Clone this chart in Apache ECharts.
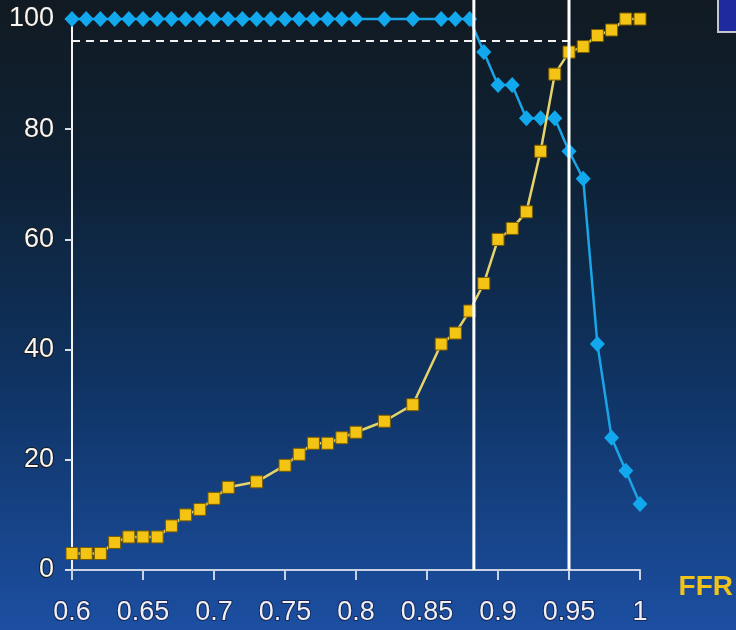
<!DOCTYPE html>
<html>
<head>
<meta charset="utf-8">
<script src="https://cdn.jsdelivr.net/npm/echarts@6/dist/echarts.min.js"></script>
<style>
html,body{margin:0;padding:0;background:#0f1e30;}
#c{width:736px;height:630px;}
</style>
</head>
<body>
<div id="c"></div>
<script>
// FFR values (x) and series values (y, %)
var blueX = [0.60,0.61,0.62,0.63,0.64,0.65,0.66,0.67,0.68,0.69,0.70,0.71,0.72,0.73,0.74,0.75,0.76,0.77,0.78,0.79,0.80,0.82,0.84,0.86,0.87,0.88,0.89,0.90,0.91,0.92,0.93,0.94,0.95,0.96,0.97,0.98,0.99,1.00];
var blueY = [100,100,100,100,100,100,100,100,100,100,100,100,100,100,100,100,100,100,100,100,100,100,100,100,100,100,94,88,88,82,82,82,76,71,41,24,18,12];
var yellowX = [0.60,0.61,0.62,0.63,0.64,0.65,0.66,0.67,0.68,0.69,0.70,0.71,0.73,0.75,0.76,0.77,0.78,0.79,0.80,0.82,0.84,0.86,0.87,0.88,0.89,0.90,0.91,0.92,0.93,0.94,0.95,0.96,0.97,0.98,0.99,1.00];
var yellowY = [3,3,3,5,6,6,6,8,10,11,13,15,16,19,21,23,23,24,25,27,30,41,43,47,52,60,62,65,76,90,94,95,97,98,100,100];
var xTicks = [0.6,0.65,0.7,0.75,0.8,0.85,0.9,0.95,1];
var xTickLabels = ['0.6','0.65','0.7','0.75','0.8','0.85','0.9','0.95','1'];
var yTicks = [0,20,40,60,80,100];
var cutoffs = [0.883,0.95];
var dashedLevel = 96;
var xName = 'FFR';

function pairs(xs, ys){ return xs.map(function(x,i){ return [x, ys[i]]; }); }

var chart = echarts.init(document.getElementById('c'), null, {renderer:'canvas'});
var series = [
  {
    type:'line', name:'dashed', silent:true, clip:false, symbol:'none',
    data:[[xTicks[0], dashedLevel],[cutoffs[1], dashedLevel]],
    lineStyle:{color:'#f2f2f2', width:2, type:[8,6]}, z:1
  }
];
cutoffs.forEach(function(c){
  series.push({
    type:'line', silent:true, clip:false, symbol:'none',
    data:[[c,0],[c,103.6]],
    lineStyle:{color:'#ffffff', width:3}, z:5
  });
});
series.push({
  type:'line', name:'blue', data:pairs(blueX, blueY), clip:false,
  symbol:'diamond', symbolSize:[15,16],
  lineStyle:{color:'#1aa6e6', width:2.5},
  itemStyle:{color:'#12a8ee'}, z:3
});
series.push({
  type:'line', name:'yellow', data:pairs(yellowX, yellowY), clip:false,
  symbol:'rect', symbolSize:12,
  lineStyle:{color:'#e6d46a', width:2.5},
  itemStyle:{color:'#f4c414', borderColor:'#7a5c00', borderWidth:1}, z:4
});

chart.setOption({
  animation:false,
  backgroundColor:{
    type:'linear', x:0, y:0, x2:0, y2:1,
    colorStops:[
      {offset:0, color:'#111a22'},
      {offset:0.3, color:'#0e2338'},
      {offset:0.6, color:'#0f3362'},
      {offset:1, color:'#1c4fa2'}
    ]
  },
  grid:{left:72, right:96, top:19, bottom:60},
  xAxis:{
    type:'value', min:xTicks[0], max:xTicks[xTicks.length-1],
    axisLine:{show:true, lineStyle:{color:'#c8d2e4', width:2}},
    axisTick:{show:true, length:10, customValues:xTicks, lineStyle:{color:'#c8d2e4', width:2}},
    splitLine:{show:false},
    axisLabel:{
      customValues:xTicks,
      formatter:function(v){ var i = xTicks.indexOf(v); return i>=0 ? xTickLabels[i] : ''; },
      color:'#eef0f6', fontSize:27, fontFamily:'Liberation Sans, Arial, sans-serif',
      margin:29, textBorderColor:'#18285a', textBorderWidth:2
    }
  },
  yAxis:{
    type:'value', min:yTicks[0], max:yTicks[yTicks.length-1], interval:20,
    axisLine:{show:true, lineStyle:{color:'#f4f4f4', width:2}},
    axisTick:{show:true, length:7, lineStyle:{color:'#d8dce4', width:2}},
    splitLine:{show:false},
    axisLabel:{
      color:'#f6f6f6', fontSize:27, fontFamily:'Liberation Sans, Arial, sans-serif',
      margin:18, textBorderColor:'#1a1a1a', textBorderWidth:2
    }
  },
  graphic:[
    {type:'text', right:3, top:573, style:{text:xName, fill:'#f0c21c', font:'bold 28px "Liberation Sans", Arial, sans-serif'}},
    {type:'rect', shape:{x:718, y:-6, width:30, height:38}, style:{fill:'#1e2a9e', stroke:'#c4c6d0', lineWidth:2}}
  ],
  series:series
});
</script>
</body>
</html>
